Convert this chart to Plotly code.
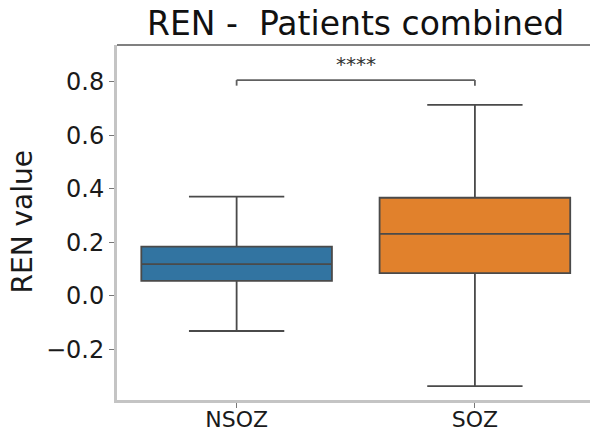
import plotly.graph_objects as go

categories = ["NSOZ", "SOZ"]
q1 = [0.055, 0.084]
median = [0.118, 0.231]
q3 = [0.183, 0.366]
lowerfence = [-0.132, -0.338]
upperfence = [0.370, 0.713]
colors = ["#3274a1", "#e1812c"]
ytick_vals = [-0.2, 0.0, 0.2, 0.4, 0.6, 0.8]
ytick_text = ["\u22120.2", "0.0", "0.2", "0.4", "0.6", "0.8"]
sig_y = 0.806
sig_drop = 0.785
sig_label = "****"

FONT = "DejaVu Sans"
fig = go.Figure()
for i, c in enumerate(categories):
    fig.add_trace(go.Box(
        x=[c], q1=[q1[i]], median=[median[i]], q3=[q3[i]],
        lowerfence=[lowerfence[i]], upperfence=[upperfence[i]],
        fillcolor=colors[i], line=dict(color="#4a4a4a", width=1.8),
        width=0.8, whiskerwidth=0.5, boxpoints=False, showlegend=False,
        hoverinfo="skip",
    ))

# significance bracket
fig.add_shape(type="line", x0=categories[0], x1=categories[1], y0=sig_y, y1=sig_y,
              line=dict(color="#606060", width=1.8))
for c in categories:
    fig.add_shape(type="line", x0=c, x1=c, y0=sig_drop, y1=sig_y,
                  line=dict(color="#606060", width=1.8))
fig.add_annotation(x=0.5, y=sig_y, xref="x", yref="y", text=sig_label, showarrow=False,
                   yanchor="bottom", yshift=2, font=dict(family=FONT, size=20, color="#333333"))

# top spine (darker)
fig.add_shape(type="line", xref="paper", yref="paper", x0=0, x1=1, y0=1, y1=1,
              line=dict(color="#808080", width=2))

# y axis label
fig.add_annotation(text="REN value", xref="paper", yref="paper", x=(22 - 117) / 473, y=0.5,
                   xanchor="center", yanchor="middle", textangle=-90, showarrow=False,
                   font=dict(family=FONT, size=28, color="#1a1a1a"))

fig.update_layout(
    width=591, height=434,
    margin=dict(l=117, r=1, t=45, b=34),
    paper_bgcolor="white", plot_bgcolor="white",
    font=dict(family=FONT, color="#1a1a1a"),
    title=dict(text="REN -  Patients combined", x=(355.7 - 117) / 473, xref="paper", xanchor="center",
               y=1 - 23 / 434, yref="container", yanchor="middle",
               font=dict(family=FONT, size=33, color="#111111")),
    xaxis=dict(type="category", categoryorder="array", categoryarray=categories,
               range=[-0.502, 1.483], showline=True, mirror=False, linecolor="#c4c4c4", linewidth=3,
               ticks="outside", ticklen=5, tickwidth=1.2, tickcolor="#777777", automargin=False,
               ticklabelstandoff=-7,
               tickfont=dict(family=FONT, size=22, color="#1a1a1a"), showgrid=False, zeroline=False),
    yaxis=dict(range=[-0.39, 0.937], tickvals=ytick_vals, ticktext=ytick_text,
               showline=True, mirror=False, linecolor="#c4c4c4", linewidth=3,
               ticks="outside", ticklen=5, tickwidth=1.2, tickcolor="#777777", automargin=False,
               tickfont=dict(family=FONT, size=24, color="#1a1a1a"), showgrid=False, zeroline=False),
)

fig.write_html("out.html", config={"displayModeBar": False},
               post_script="document.body.style.margin='0px';")
